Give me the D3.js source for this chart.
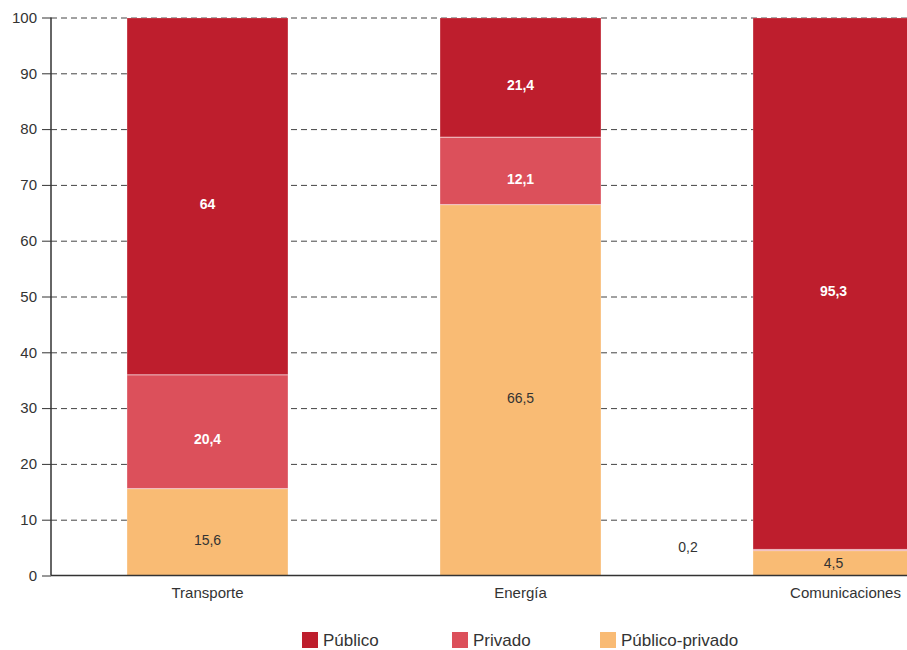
<!DOCTYPE html>
<html>
<head>
<meta charset="utf-8">
<title>Inversión por sector</title>
<script src="https://cdn.jsdelivr.net/npm/d3@7"></script>
<style>
  body { margin: 0; background: #fff; }
  text { font-family: "Liberation Sans", Arial, sans-serif; fill: #333; }
  .grid line { stroke: #444; stroke-dasharray: 6 4; stroke-width: 1; }
  .grid path { stroke: none; }
  .yaxis path { stroke: none; }
  .yaxis line { stroke: #333; }
</style>
</head>
<body>
<script>
  // data
  var categories = ["Transporte", "Energía", "Comunicaciones"];
  var series = ["Público-privado", "Privado", "Público"];
  var publicoPrivado = [15.6, 66.5, 4.5];
  var privado = [20.4, 12.1, 0.2];
  var publico = [64, 21.4, 95.3];
  var yTicks = [0, 10, 20, 30, 40, 50, 60, 70, 80, 90, 100];
  var legendOrder = ["Público", "Privado", "Público-privado"];

  var colors = {"Público": "#be1e2d", "Privado": "#dc505b", "Público-privado": "#f9bb74"};

  var width = 907, height = 650;
  var mLeft = 51, mTop = 17.5, mBottom = 575.5;

  var svg = d3.select("body").append("svg")
    .attr("width", width).attr("height", height);

  var rows = categories.map(function(c, i) {
    return {cat: c, "Público-privado": publicoPrivado[i], "Privado": privado[i], "Público": publico[i]};
  });
  var stacked = d3.stack().keys(series)(rows);

  var x = d3.scaleBand().domain(categories)
    .range([mLeft, mLeft + 3 * 313])
    .paddingInner(0.486).paddingOuter(0.243);
  var y = d3.scaleLinear().domain([0, 100]).range([mBottom, mTop]);

  // grid
  svg.append("g").attr("class", "grid")
    .attr("transform", "translate(" + mLeft + ",0)")
    .call(d3.axisRight(y).tickValues(yTicks.slice(1)).tickSize(width - mLeft).tickFormat(""));

  // y axis
  var ya = svg.append("g").attr("class", "yaxis")
    .attr("transform", "translate(" + mLeft + ",0)")
    .call(d3.axisLeft(y).tickValues(yTicks).tickSize(9).tickPadding(5));
  ya.selectAll("text").style("font-size", "15px").attr("fill", "#333");
  ya.append("line").attr("y1", y(0)).attr("y2", y(100))
    .attr("stroke", "#333").attr("stroke-width", 1.5);

  // bars
  var layer = svg.append("g").selectAll("g").data(stacked).enter().append("g")
    .attr("fill", function(d) { return colors[d.key]; });
  layer.selectAll("rect").data(function(d) { return d; }).enter().append("rect")
    .attr("x", function(d) { return x(d.data.cat); })
    .attr("width", x.bandwidth())
    .attr("y", function(d) { return y(d[1]) + 0.5; })
    .attr("height", function(d) { return Math.max(0, y(d[0]) - y(d[1]) - 0.5); })
    .attr("stroke", "rgba(255,255,255,0.2)")
    .attr("stroke-width", 1);

  // value labels
  stacked.forEach(function(s) {
    s.forEach(function(d) {
      var v = d[1] - d[0];
      var isRed = s.key !== "Público-privado";
      var cx = x(d.data.cat) + x.bandwidth() / 2;
      var cy = Math.min(y((d[0] + d[1]) / 2) + 8, y(d[0]) - 12);
      if (v < 1) { cx = x(d.data.cat) - 65; cy = y(d[1]) - 2; isRed = false; }
      svg.append("text")
        .attr("x", cx).attr("y", cy).attr("dy", "0.35em")
        .attr("text-anchor", "middle")
        .style("font-size", "14px")
        .style("font-weight", isRed ? "bold" : "normal")
        .style("fill", isRed ? "#fff" : "#333")
        .text(String(+v.toFixed(1)).replace(".", ","));
    });
  });

  // x axis line
  svg.append("line").attr("x1", mLeft).attr("x2", width)
    .attr("y1", mBottom).attr("y2", mBottom)
    .attr("stroke", "#333").attr("stroke-width", 1.5);

  svg.append("g").selectAll("text").data(categories).enter().append("text")
    .attr("x", function(d, i) { return x(d) + x.bandwidth() / 2 + (i === 2 ? 12 : 0); })
    .attr("y", mBottom + 22)
    .attr("text-anchor", "middle")
    .style("font-size", "15px")
    .text(function(d) { return d; });

  // legend
  var legX = [302, 452, 600];
  var leg = svg.append("g").selectAll("g").data(legendOrder).enter().append("g")
    .attr("transform", function(d, i) { return "translate(" + legX[i] + ",632)"; });
  leg.append("rect").attr("width", 16).attr("height", 16)
    .attr("fill", function(d) { return colors[d]; });
  leg.append("text").attr("x", 21).attr("y", 13.5)
    .style("font-size", "17px")
    .text(function(d) { return d; });
</script>
</body>
</html>
